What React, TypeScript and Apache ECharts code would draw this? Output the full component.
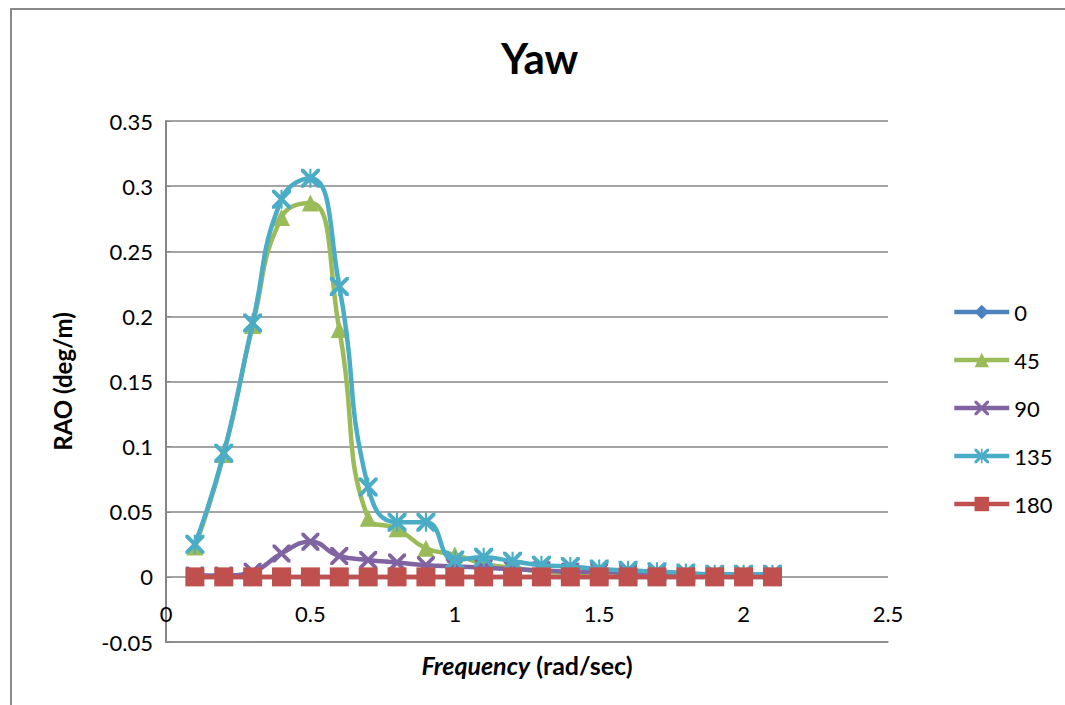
import React, { useEffect, useRef } from "react";
import * as echarts from "echarts";

const freq = [0.1, 0.2, 0.3, 0.4, 0.5, 0.6, 0.7, 0.8, 0.9, 1.0, 1.1, 1.2, 1.3, 1.4, 1.5, 1.6, 1.7, 1.8, 1.9, 2.0, 2.1];
const seriesNames = ["0", "45", "90", "135", "180"];
const yaw0 = [0, 0, 0, 0, 0, 0, 0, 0, 0, 0, 0, 0, 0, 0, 0, 0, 0, 0, 0, 0, 0];
const yaw45 = [0.023, 0.094, 0.193, 0.276, 0.287, 0.190, 0.045, 0.037, 0.022, 0.017, 0.010, 0.007, 0.004, 0.003, 0.002, 0.002, 0.001, 0.001, 0.001, 0.001, 0.001];
const yaw90 = [0.001, 0.001, 0.004, 0.018, 0.027, 0.016, 0.013, 0.011, 0.009, 0.008, 0.007, 0.006, 0.005, 0.004, 0.004, 0.003, 0.003, 0.002, 0.002, 0.002, 0.002];
const yaw135 = [0.025, 0.095, 0.195, 0.290, 0.306, 0.223, 0.069, 0.042, 0.042, 0.013, 0.015, 0.012, 0.009, 0.008, 0.006, 0.005, 0.004, 0.003, 0.002, 0.002, 0.002];
const yaw180 = [0, 0, 0, 0, 0, 0, 0, 0, 0, 0, 0, 0, 0, 0, 0, 0, 0, 0, 0, 0, 0];

const colors = ["#4F81BD", "#9BBB59", "#8064A2", "#4BACC6", "#C0504D"];

const xPath = "path://M0,0L3,0L10,7L17,0L20,0L20,3L13,10L20,17L20,20L17,20L10,13L3,20L0,20L0,17L7,10L0,3Z";
const starPath = xPath + "M8.9,0L11.1,0L11.1,20L8.9,20Z";

export default function App() {
  const ref = useRef<HTMLDivElement>(null);
  useEffect(() => {
    const chart = echarts.init(ref.current as HTMLDivElement, null, { renderer: "svg" });
    const pairs = (arr: number[]) => freq.map((f, i) => [f, arr[i]]);
    const datasets = [yaw0, yaw45, yaw90, yaw135, yaw180];
    const symbols = ["diamond", "triangle", xPath, starPath, "rect"];
    const sizes = [16, 17, 18, 19, 19];
    chart.setOption({
      animation: false,
      backgroundColor: "#ffffff",
      textStyle: { fontFamily: "Lato" },
      color: colors,
      title: {
        text: "Yaw",
        left: 501,
        top: 37,
        padding: 0,
        textStyle: { fontFamily: "Lato", fontSize: 42, fontWeight: "bold", color: "#000" },
      },
      graphic: [
        {
          type: "rect",
          silent: true,
          z: -10,
          shape: { x: 11, y: 9, width: 1200, height: 900 },
          style: { fill: "none", stroke: "#8a8a8a", lineWidth: 2 },
        },
      ],
      legend: {
        orient: "vertical",
        left: 947,
        top: 296,
        itemWidth: 55,
        itemHeight: 18,
        itemGap: 26,
        data: seriesNames,
        lineStyle: { width: 4.5 },
        textStyle: { fontFamily: "Lato", fontSize: 22, color: "#000" },
      },
      grid: { left: 166, right: 177, top: 121, bottom: 63, containLabel: false, outerBoundsMode: "none" },
      xAxis: {
        type: "value",
        min: 0,
        max: 2.5,
        interval: 0.5,
        name: "{i|Frequency}  {b|(rad/sec)}",
        nameLocation: "middle",
        nameGap: 10,
        nameTextStyle: {
          rich: {
            i: { fontFamily: "Lato", fontSize: 25, fontWeight: "bold", fontStyle: "italic", color: "#000" },
            b: { fontFamily: "Lato", fontSize: 25, fontWeight: "bold", color: "#000" },
          },
        },
        axisLine: { show: true, onZero: false, lineStyle: { color: "#868686", width: 1.5 } },
        axisTick: { show: false },
        axisLabel: { inside: true, margin: 18, fontSize: 22, color: "#000", fontFamily: "Lato" },
        splitLine: { show: false },
      },
      yAxis: {
        type: "value",
        min: -0.05,
        max: 0.35,
        interval: 0.05,
        name: "RAO (deg/m)",
        nameLocation: "middle",
        nameGap: 92,
        nameTextStyle: { fontFamily: "Lato", fontSize: 24, fontWeight: "bold", color: "#000" },
        axisLine: { show: true, onZero: false, lineStyle: { color: "#868686", width: 2 } },
        axisTick: { show: true, inside: true, length: 5, lineStyle: { color: "#868686" } },
        axisLabel: {
          margin: 13,
          fontSize: 22,
          color: "#000",
          fontFamily: "Lato",
          formatter: (v: number) => String(+v.toFixed(2)),
        },
        splitLine: { show: true, lineStyle: { color: "#868686", width: 1.5 } },
      },
      series: seriesNames.map((name, k) => ({
        name,
        type: "line",
        data: pairs(datasets[k]),
        smooth: 0.5,
        symbol: symbols[k],
        symbolSize: sizes[k],
        showAllSymbol: true,
        lineStyle: { width: 4.5, color: colors[k] },
        itemStyle: { color: colors[k] },
        z: 2 + k,
      })),
    });
    return () => chart.dispose();
  }, []);
  return (
    <div
      ref={ref}
      style={{ position: "fixed", left: 0, top: 0, width: 1065, height: 705, background: "#fff" }}
    />
  );
}
